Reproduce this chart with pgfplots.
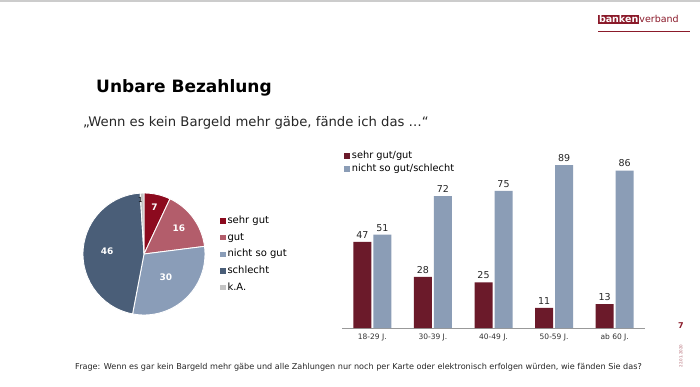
\documentclass[border=0pt]{standalone}
\usepackage{fontspec}
\setmainfont{DejaVu Sans}
\usepackage{pgfplots}
\pgfplotsset{compat=1.18}
\definecolor{bvred}{HTML}{8B1A2A}
\definecolor{pA}{HTML}{8C0A1E}
\definecolor{pB}{HTML}{B35D6B}
\definecolor{pC}{HTML}{8A9DB8}
\definecolor{pD}{HTML}{4A5E78}
\definecolor{pE}{HTML}{C4C4C4}
\definecolor{barA}{HTML}{6B1A2A}
\definecolor{barB}{HTML}{8B9DB6}
\newcommand\piewedge[3]{\path[fill=#3, draw=white, line width=0.9pt] (axis cs:0,0) -- ([shift={(#1:61pt)}]axis cs:0,0) arc[start angle=#1, end angle=#2, radius=61pt] -- cycle;}
\newcommand\pielabel[4]{\node[font=#4] at ([shift={(#1:#2)}]axis cs:0,0) {#3};}
\begin{document}
\begin{tikzpicture}[x=1pt,y=-1pt]
\path[use as bounding box, fill=white] (0,0) rectangle (700,387);
\draw[line width=1.5pt, color=black!20] (0,1) -- (700,1);
% logo
\node[fill=bvred, text=white, font=\bfseries\fontsize{9.5}{10}\selectfont, inner xsep=0.8pt, inner ysep=1pt, anchor=base west] (b) at (598,23) {banken};
\node[text=bvred, font=\fontsize{9.5}{10}\selectfont, inner sep=0pt, anchor=base west] at (b.base east) {verband};
\draw[bvred, line width=0.6pt] (598,31) -- (690,31);
% titles
\node[anchor=base west, inner sep=0pt, font=\bfseries\fontsize{17}{20}\selectfont] at (96,93) {Unbare Bezahlung};
\node[anchor=base west, inner sep=0pt, font=\fontsize{13.2}{15}\selectfont, color=black!85] at (83,127) {„Wenn es kein Bargeld mehr gäbe, fände ich das …“};
\node[anchor=base west, inner sep=0pt, font=\fontsize{8.1}{9}\selectfont, color=black!85] at (75,369) {Frage: Wenn es gar kein Bargeld mehr gäbe und alle Zahlungen nur noch per Karte oder elektronisch erfolgen würden, wie fänden Sie das?};
\node[font=\bfseries\fontsize{8}{9}\selectfont, color=bvred] at (681,326) {7};
\node[rotate=90, font=\fontsize{4}{5}\selectfont, color=bvred!70] at (681,356) {22.01.2020};
% pie angles from the values 7, 16, 30, 46, 1
\pgfmathsetmacro\aA{90}
\pgfmathsetmacro\aB{\aA-3.6*7}
\pgfmathsetmacro\aC{\aB-3.6*16}
\pgfmathsetmacro\aD{\aC-3.6*30}
\pgfmathsetmacro\aE{\aD-3.6*46}
\pgfmathsetmacro\aF{\aE-3.6*1}
\begin{axis}[at={(144pt,-254pt)}, anchor=center, scale only axis, width=122pt, height=122pt,
  hide axis, xmin=-1, xmax=1, ymin=-1, ymax=1, clip=false,
  legend image code/.code={\path[#1] (0pt,-2.7pt) rectangle (5.4pt,2.7pt);},
  legend style={at={(1.125,0.81)}, anchor=north west, draw=none, fill=none, inner sep=0pt,
    font=\fontsize{10}{11}\selectfont, row sep=7.7pt,
    nodes={inner sep=0pt, text height=7pt, text depth=2pt}},
  legend cell align=left]
\addlegendimage{fill=pA, draw=none}\addlegendentry{\,sehr gut}
\addlegendimage{fill=pB, draw=none}\addlegendentry{\,gut}
\addlegendimage{fill=pC, draw=none}\addlegendentry{\,nicht so gut}
\addlegendimage{fill=pD, draw=none}\addlegendentry{\,schlecht}
\addlegendimage{fill=pE, draw=none}\addlegendentry{\,k.A.}
\piewedge{\aA}{\aB}{pA}
\piewedge{\aB}{\aC}{pB}
\piewedge{\aC}{\aD}{pC}
\piewedge{\aD}{\aE}{pD}
\piewedge{\aE}{\aF}{pE}
\pielabel{77.4}{48pt}{\textcolor{white}{7}}{\bfseries\fontsize{9}{10}\selectfont}
\pielabel{36}{43pt}{\textcolor{white}{16}}{\bfseries\fontsize{9}{10}\selectfont}
\pielabel{-46.8}{32pt}{\textcolor{white}{30}}{\bfseries\fontsize{9}{10}\selectfont}
\pielabel{176.4}{37pt}{\textcolor{white}{46}}{\bfseries\fontsize{9}{10}\selectfont}
\pielabel{94}{54pt}{1}{\fontsize{7}{8}\selectfont}
\end{axis}
% bars
\begin{axis}[at={(342pt,-328pt)}, anchor=south west, scale only axis, width=303pt, height=183pt,
  xmin=-0.5, xmax=4.5, ymin=0, ymax=100, clip=false,
  /pgf/number format/assume math mode=true,
  axis x line*=bottom, hide y axis,
  x axis line style={draw=black!40, line width=0.8pt, -},
  xtick=data, xticklabels={18-29 J., 30-39 J., 40-49 J., 50-59 J., ab 60 J.},
  major tick length=0pt,
  xticklabel style={font=\fontsize{7.5}{8}\selectfont, color=black!80, yshift=-2pt},
  ybar=2pt, bar width=18pt,
  nodes near coords,
  nodes near coords style={font=\fontsize{9.5}{10}\selectfont, color=black!85},
  legend image code/.code={\path[#1] (0pt,-3pt) rectangle (6pt,3pt);},
  legend style={at={(0.007,0.967)}, anchor=north west, draw=none, fill=none, inner sep=0pt,
    font=\fontsize{9.8}{10}\selectfont, row sep=4.5pt,
    nodes={inner sep=0pt, text height=7pt, text depth=2pt}},
  legend cell align=left]
\addplot[fill=barA, draw=none] coordinates {(0,47) (1,28) (2,25) (3,11) (4,13)};
\addlegendentry{\,sehr gut/gut}
\addplot[fill=barB, draw=none] coordinates {(0,51) (1,72) (2,75) (3,89) (4,86)};
\addlegendentry{\,nicht so gut/schlecht}
\end{axis}
\end{tikzpicture}
\end{document}
